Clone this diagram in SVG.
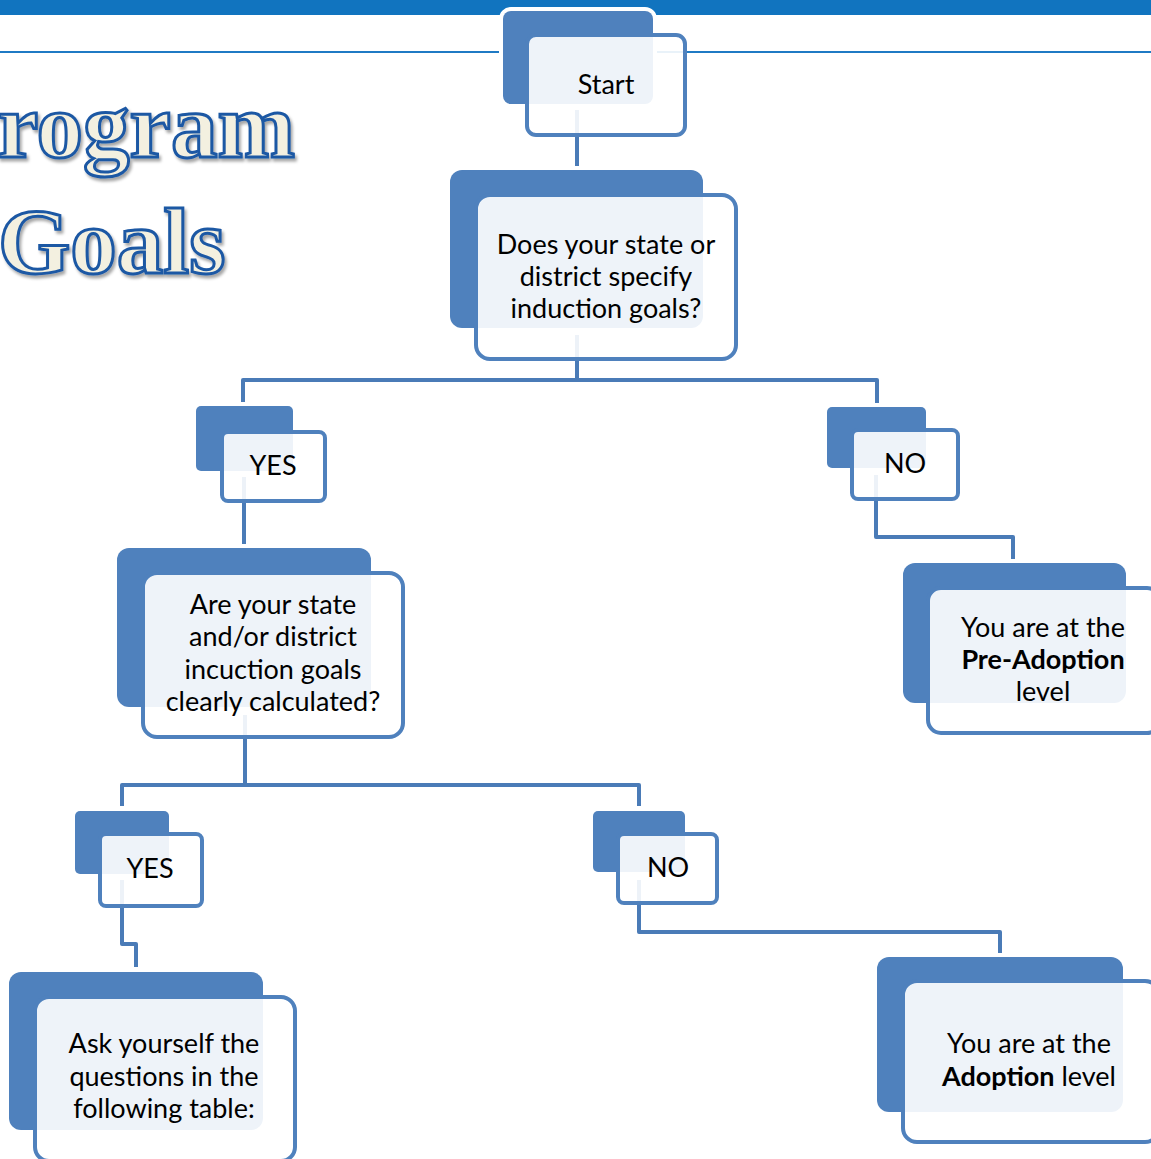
<svg xmlns="http://www.w3.org/2000/svg" width="1151" height="1159" viewBox="0 0 1151 1159">
<style>
.back{fill:#4f81bd;stroke:#ffffff;stroke-width:8;paint-order:stroke}
.front{fill:#ffffff;fill-opacity:0.9;stroke:#4f81bd;stroke-width:4}
.conn{fill:none;stroke:#4a7bb7;stroke-width:4;stroke-linejoin:round}
.t{font-family:Lato,"Liberation Sans",sans-serif;font-size:27px;fill:#000;text-anchor:middle}
.b{font-weight:bold}
.title{font-family:"Liberation Serif",serif;font-weight:bold;font-size:93px;fill:#f3f0e0;stroke:#1d58a4;stroke-width:3}
</style>
<defs>
<filter id="sh" x="-10%" y="-10%" width="130%" height="140%">
<feDropShadow dx="2" dy="3" stdDeviation="1.5" flood-color="#000" flood-opacity="0.35"/>
</filter>
</defs>
<rect x="0" y="0" width="1151" height="1159" fill="#ffffff"/>
<g id="header">
<rect x="0" y="0" width="1151" height="15" fill="#1174bf"/>
<line x1="0" y1="52" x2="1151" y2="52" stroke="#1f7ac4" stroke-width="2"/>
</g>
<g id="title" filter="url(#sh)">
<text class="title" x="-3" y="157">rogram</text>
<text class="title" x="-2" y="273">Goals</text>
</g>
<g id="connectors">
<path class="conn" d="M577,110 V166"/>
<path class="conn" d="M577,335 V380 M243,406 V380 H877 V406"/>
<path class="conn" d="M244,477 V544"/>
<path class="conn" d="M876,475 V537 H1013 V559"/>
<path class="conn" d="M245,715 V785 M122,806 V785 H639 V806"/>
<path class="conn" d="M122,880 V944 H136 V967"/>
<path class="conn" d="M639,880 V932 H1000 V953"/>
</g>
<g id="start">
<rect class="back" x="503" y="11" width="150" height="93" rx="8"/>
<rect class="front" x="527" y="35" width="158" height="100" rx="9"/>
<text class="t" x="606" y="94">Start</text>
</g>
<g id="q1">
<rect class="back" x="450" y="170" width="253" height="158" rx="12"/>
<rect class="front" x="476" y="195" width="260" height="164" rx="14"/>
<text class="t" x="606" y="254">Does your state or</text>
<text class="t" x="606" y="286">district specify</text>
<text class="t" x="606" y="318">induction goals?</text>
</g>
<g id="yes1">
<rect class="back" x="196" y="406" width="97" height="65" rx="5"/>
<rect class="front" x="222" y="432" width="103" height="69" rx="6"/>
<text class="t" x="273" y="475">YES</text>
</g>
<g id="no1">
<rect class="back" x="827" y="407" width="99" height="61" rx="5"/>
<rect class="front" x="852" y="430" width="106" height="69" rx="6"/>
<text class="t" x="905" y="473">NO</text>
</g>
<g id="preadoption">
<rect class="back" x="903" y="563" width="223" height="140" rx="12"/>
<rect class="front" x="928" y="588" width="232" height="145" rx="13"/>
<text class="t" x="1043" y="637">You are at the</text>
<text class="t b" x="1043" y="669">Pre-Adoption</text>
<text class="t" x="1043" y="701">level</text>
</g>
<g id="q2">
<rect class="back" x="117" y="548" width="254" height="159" rx="12"/>
<rect class="front" x="143" y="573" width="260" height="164" rx="14"/>
<text class="t" x="273" y="614">Are your state</text>
<text class="t" x="273" y="646">and/or district</text>
<text class="t" x="273" y="679">incuction goals</text>
<text class="t" x="273" y="711">clearly calculated?</text>
</g>
<g id="yes2">
<rect class="back" x="75" y="811" width="94" height="63" rx="5"/>
<rect class="front" x="100" y="834" width="102" height="72" rx="6"/>
<text class="t" x="150" y="878">YES</text>
</g>
<g id="no2">
<rect class="back" x="593" y="811" width="92" height="61" rx="5"/>
<rect class="front" x="618" y="834" width="99" height="69" rx="6"/>
<text class="t" x="668" y="877">NO</text>
</g>
<g id="ask">
<rect class="back" x="9" y="972" width="254" height="158" rx="12"/>
<rect class="front" x="35" y="997" width="260" height="164" rx="14"/>
<text class="t" x="164" y="1053">Ask yourself the</text>
<text class="t" x="164" y="1086">questions in the</text>
<text class="t" x="164" y="1118">following table:</text>
</g>
<g id="adoption">
<rect class="back" x="877" y="957" width="246" height="155" rx="12"/>
<rect class="front" x="903" y="981" width="256" height="161" rx="14"/>
<text class="t" x="1029" y="1053">You are at the</text>
<text class="t" x="1029" y="1086"><tspan class="b">Adoption</tspan> level</text>
</g>
</svg>
